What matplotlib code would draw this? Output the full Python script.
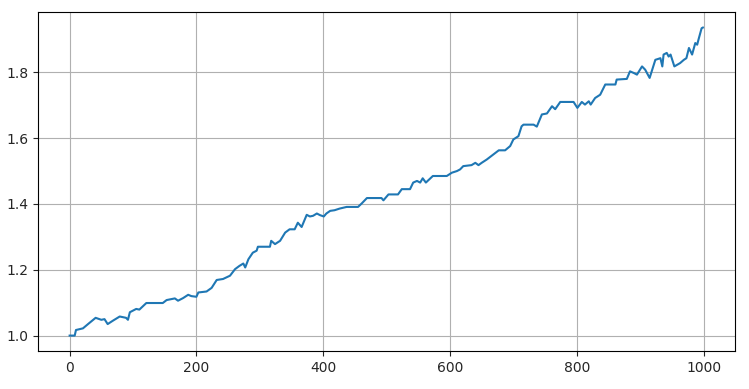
import numpy as np
import matplotlib
matplotlib.use("Agg")
import matplotlib.pyplot as plt

# values (step index, cumulative value)
steps = [0, 8, 10, 21, 29, 41, 50, 55, 60, 68, 79, 89, 92, 95, 105, 110,
         121, 147, 153, 166, 171, 179, 187, 192, 200, 203, 216, 224, 232,
         242, 253, 261, 268, 274, 277, 282, 289, 295, 297, 316, 318, 324,
         332, 340, 347, 355, 360, 366, 374, 379, 384, 390, 395, 401, 405,
         411, 418, 426, 437, 455, 461, 469, 492, 495, 503, 518, 524, 537,
         542, 548, 553, 557, 562, 573, 595, 603, 611, 616, 621, 634, 640,
         645, 650, 658, 669, 677, 687, 695, 700, 708, 713, 716, 732, 737,
         745, 753, 761, 766, 774, 795, 801, 808, 813, 819, 822, 829, 837,
         845, 861, 863, 879, 884, 890, 895, 903, 908, 915, 924, 932, 935,
         937, 942, 945, 948, 954, 963, 969, 973, 977, 982, 987, 990, 992,
         997, 999]
value = [1.000, 1.000, 1.017, 1.022, 1.035, 1.054, 1.048, 1.050, 1.035,
         1.045, 1.058, 1.054, 1.048, 1.071, 1.081, 1.079, 1.099, 1.099,
         1.108, 1.113, 1.106, 1.114, 1.124, 1.120, 1.118, 1.131, 1.134,
         1.145, 1.169, 1.172, 1.182, 1.202, 1.212, 1.219, 1.207, 1.232,
         1.252, 1.258, 1.270, 1.270, 1.288, 1.278, 1.288, 1.313, 1.323,
         1.323, 1.343, 1.330, 1.367, 1.362, 1.364, 1.371, 1.366, 1.362,
         1.371, 1.379, 1.381, 1.386, 1.391, 1.391, 1.402, 1.418, 1.418,
         1.411, 1.429, 1.429, 1.445, 1.445, 1.465, 1.470, 1.465, 1.478,
         1.465, 1.485, 1.485, 1.495, 1.500, 1.505, 1.515, 1.518, 1.525,
         1.518, 1.525, 1.535, 1.551, 1.563, 1.563, 1.576, 1.596, 1.606,
         1.636, 1.641, 1.641, 1.635, 1.672, 1.675, 1.697, 1.688, 1.710,
         1.710, 1.692, 1.710, 1.702, 1.712, 1.702, 1.722, 1.732, 1.763,
         1.763, 1.778, 1.780, 1.803, 1.798, 1.793, 1.818, 1.808, 1.783,
         1.838, 1.843, 1.818, 1.854, 1.859, 1.848, 1.854, 1.818, 1.828,
         1.838, 1.843, 1.874, 1.854, 1.889, 1.884, 1.899, 1.934, 1.936]

fig = plt.figure(figsize=(7.49, 3.89), dpi=100)
ax = fig.add_axes([0.0507, 0.0977, 0.930, 0.871])
ax.plot(steps, value, color="#1f77b4", linewidth=1.5)
ax.grid(True, color="#b0b0b0", linewidth=0.8)
ax.tick_params(labelsize=10, colors="#262626")
ax.set_xticks([0, 200, 400, 600, 800, 1000])
ax.set_yticks([1.0, 1.2, 1.4, 1.6, 1.8])

fig.savefig("out.png", dpi=100)
